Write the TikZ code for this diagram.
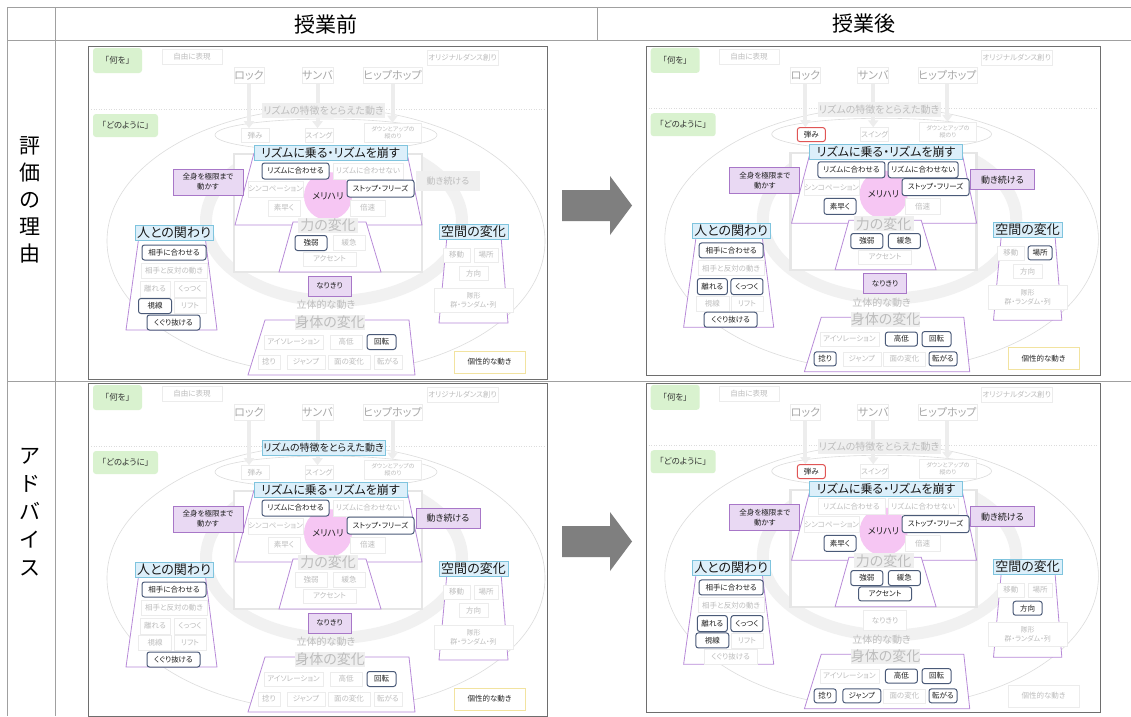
\documentclass[tikz,border=0pt]{standalone}
\usepackage{fontspec}
\setmainfont{Noto Sans CJK JP}[RawFeature=+palt]
\usetikzlibrary{arrows.meta}
\definecolor{frameC}{HTML}{6E6E6E}
\definecolor{fbord}{HTML}{ECECEC}
\definecolor{ftext}{HTML}{BDBDBD}
\definecolor{ftextD}{HTML}{A8A8A8}
\definecolor{hlb}{HTML}{4A5A78}
\definecolor{redc}{HTML}{E05555}
\definecolor{purpb}{HTML}{A877C8}
\definecolor{purpf}{HTML}{E9D9F3}
\definecolor{cyanb}{HTML}{7FC4DE}
\definecolor{cyanf}{HTML}{DCEFFA}
\definecolor{grayfill}{HTML}{EFEFEF}
\definecolor{greenf}{HTML}{D9F2CF}
\definecolor{yelb}{HTML}{F2E3A0}
\definecolor{ellc}{HTML}{DCDCDC}
\definecolor{tlineC}{HTML}{A0A0A0}
\definecolor{arrowC}{HTML}{7F7F7F}
\definecolor{ringC}{HTML}{F1F1F1}
\definecolor{brkC}{HTML}{E6E6E6}
\definecolor{trapC}{HTML}{B88AD8}
\definecolor{pinkF}{HTML}{F6C6F3}
\newcommand\fsz[1]{\fontsize{#1}{#1}\selectfont}
\newcommand\fsb[2]{\fontsize{#1}{#2}\selectfont}
\newcommand\itm[6][]{\node[i-#2,minimum width=#4pt,minimum height=#5pt,#1] (\pfx-#2) at (#3) {#6};}
\tikzset{
 ibase/.style={rectangle, inner sep=0pt, align=center, font=\fsz{7.5}},
 faint/.style={ibase, draw=fbord, fill=white, text=ftext, line width=0.6pt},
 hl/.style={ibase, draw=hlb, fill=white, text=black!88, rounded corners=2.5pt, line width=1pt},
 redb/.style={ibase, draw=redc, fill=white, text=black!88, rounded corners=2.5pt, line width=1pt},
 purp/.style={ibase, draw=purpb, fill=purpf, text=black!88, line width=0.8pt},
 grayf/.style={ibase, fill=grayfill, text=ftext},
 cyanl/.style={ibase, draw=cyanb, fill=cyanf, text=black!90, line width=0.8pt},
 grayl/.style={ibase, fill=grayfill, text=ftext},
 greenb/.style={ibase, fill=greenf, rounded corners=3pt, text=black!80},
 yel/.style={ibase, draw=yelb, fill=white, text=black!85, line width=0.8pt},
 pinkc/.style={circle, inner sep=0pt, fill=pinkF, text=black!88, font=\fsz{9}},
 plaintext/.style={ibase, text=ftext},
 trap/.style={draw=trapC, line width=0.8pt},
 garrow/.style={draw=black!7, line width=4pt, -{Triangle[width=10pt,length=7pt]}},
 tline/.style={draw=tlineC, line width=0.7pt},
 i-nanio/.style=greenb, i-donoyouni/.style=greenb,
 i-jiyu/.style=faint, i-original/.style=faint,
 i-rock/.style=faint, i-samba/.style=faint, i-hiphop/.style=faint,
 i-tokucho/.style=grayl,
 i-hazumi/.style=faint, i-swing/.style=faint, i-downup/.style=faint,
 i-noru/.style=cyanl, i-merihari/.style=pinkc,
 i-awaseru/.style=faint, i-awasenai/.style=faint, i-synco/.style=faint,
 i-stop/.style=faint, i-subayaku/.style=faint, i-baisoku/.style=faint,
 i-zenshin/.style=purp, i-tsuzukeru/.style=grayf,
 i-chikara/.style=grayl, i-kyojaku/.style=faint, i-kankyu/.style=faint, i-accent/.style=faint,
 i-narikiri/.style=purp, i-rittai/.style=plaintext,
 i-shintai/.style=grayl, i-iso/.style=faint, i-kotei/.style=faint, i-kaiten/.style=faint,
 i-hineri/.style=faint, i-jump/.style=faint, i-men/.style=faint, i-korogaru/.style=faint,
 i-kosei/.style=yel,
 i-hito/.style=cyanl, i-aite/.style=faint, i-hantai/.style=faint, i-hanareru/.style=faint,
 i-kuttsuku/.style=faint, i-shisen/.style=faint, i-lift/.style=faint, i-kuguri/.style=faint,
 i-kukan/.style=cyanl, i-idou/.style=faint, i-basho/.style=faint, i-houkou/.style=faint, i-taikei/.style=faint
}
\newcommand\PanelBody{%
 \fill[white] (0,0) rectangle (459,333);
 \draw[draw=ellc,line width=0.6pt] (238,195) ellipse [x radius=219,y radius=133];
 \draw[draw=ringC,line width=12pt] (328.28,113.72) arc[start angle=-50,end angle=230,x radius=128,y radius=80];
 \draw[draw=brkC,line width=2.5pt,fill=white] (146,108) rectangle (334,226);
 \draw[draw=ellc,line width=0.6pt,dash pattern=on 1pt off 1.5pt] (3,63) -- (456,63);
 \draw[draw=ellc,line width=0.6pt] (238,89) ellipse [x radius=111,y radius=16];
 \draw[trap] (166,107) -- (147,179) -- (334,179) -- (319,107);
 \draw[trap,fill=white] (205,176) -- (191,226) -- (293,226) -- (278,176) -- cycle;
 \draw[trap,fill=white] (51,190) -- (38,284) -- (129,284) -- (117,190) -- cycle;
 \draw[trap,fill=white] (359,190) -- (351,277) -- (420,277) -- (413,190) -- cycle;
 \draw[trap,fill=white] (177,274) -- (160,329) -- (327,329) -- (321,274) -- cycle;
 \itm{jiyu}{104,10.5}{60}{15}{自由に表現}
 \itm{original}{374.5,11.5}{71}{15}{オリジナルダンス創り}
 \itm[font=\fsz{8.5}]{nanio}{29.5,14.5}{49}{25}{「何を」}
 \itm[font=\fsz{8.5}]{donoyouni}{37.5,79.5}{65}{23}{「どのように」}
 \itm[font=\fsz{11},text=ftextD]{rock}{161,29.5}{30}{16}{ロック}
 \itm[font=\fsz{11},text=ftextD]{samba}{229.5,29.5}{31}{16}{サンバ}
 \itm[font=\fsz{11},text=ftextD]{hiphop}{304.5,29.5}{59}{16}{ヒップホップ}
 \itm{hazumi}{167,89.5}{28}{14}{弾み}
 \itm{swing}{231,89.5}{28}{14}{スイング}
 \itm[font=\fsb{6}{7.5}]{downup}{305,86.5}{57}{19}{ダウンとアップの\\縦のり}
 \draw[garrow] (\pfx-rock.south) -- (\pfx-rock.south |- \pfx-hazumi.north);
 \draw[garrow] (\pfx-samba.south) -- (\pfx-samba.south |- \pfx-swing.north);
 \draw[garrow] (\pfx-hiphop.south) -- (\pfx-hiphop.south |- \pfx-downup.north);
 \itm[font=\fsz{10}]{tokucho}{235.5,64.5}{123}{15}{リズムの特徴をとらえた動き}
 \itm[font=\fsz{12}]{noru}{242.5,107}{153}{15}{リズムに乗る・リズムを崩す}
 \itm{merihari}{240,150}{48}{48}{メリハリ}
 \itm{awaseru}{207.5,125}{67}{16}{リズムに合わせる}
 \itm{awasenai}{280,125}{70}{16}{リズムに合わせない}
 \itm{synco}{187.5,143}{55}{16}{シンコペーション}
 \itm{stop}{292.5,142.5}{67}{17}{ストップ・フリーズ}
 \itm{subayaku}{196,162}{32}{16}{素早く}
 \itm{baisoku}{279.5,162}{35}{16}{倍速}
 \itm[font=\fsb{7.5}{10}]{zenshin}{120,136}{70}{26}{全身を極限まで\\動かす}
 \itm[font=\fsz{9}]{tsuzukeru}{360,135}{64}{20}{動き続ける}
 \itm[font=\fsz{14}]{chikara}{240,179.5}{60}{15}{力の変化}
 \itm{kyojaku}{223,197}{32}{15}{強弱}
 \itm{kankyu}{261,197}{32}{15}{緩急}
 \itm{accent}{241.5,213}{53}{14}{アクセント}
 \itm{narikiri}{241.5,240}{43}{20}{なりきり}
 \itm[font=\fsz{10}]{rittai}{238,259}{10}{10}{立体的な動き}
 \itm[font=\fsz{14}]{shintai}{242,276}{66}{15}{身体の変化}
 \itm{iso}{205.5,296}{59}{14}{アイソレーション}
 \itm{kotei}{258,296}{32}{14}{高低}
 \itm{kaiten}{293.5,296}{29}{15}{回転}
 \itm{hineri}{181,316}{22}{14}{捻り}
 \itm{jump}{218,316}{38}{14}{ジャンプ}
 \itm{men}{261,316}{42}{14}{面の変化}
 \itm{korogaru}{300,316}{28}{14}{転がる}
 \itm{kosei}{401.5,316}{71}{22}{個性的な動き}
 \itm[font=\fsz{13}]{hito}{86,186.5}{78}{15}{人との関わり}
 \itm{aite}{86,206.5}{64}{15}{相手に合わせる}
 \itm{hantai}{86,224.5}{66}{15}{相手と反対の動き}
 \itm{hanareru}{67,243}{30}{16}{離れる}
 \itm{kuttsuku}{102,243}{32}{16}{くっつく}
 \itm{shisen}{67,260}{33}{15}{視線}
 \itm{lift}{102,260}{32}{15}{リフト}
 \itm{kuguri}{85.5,276.5}{53}{15}{くぐり抜ける}
 \itm[font=\fsz{13}]{kukan}{385.5,185.5}{69}{15}{空間の変化}
 \itm{idou}{368.5,209}{27}{14}{移動}
 \itm{basho}{398,209}{24}{14}{場所}
 \itm{houkou}{385.5,227.5}{29}{14}{方向}
 \itm[font=\fsb{7}{9}]{taikei}{385.5,254}{79}{24}{隊形\\群・ランダム・列}
 \draw[draw=frameC,line width=1pt] (0,0) rectangle (459,333);
}
\begin{document}
\begin{tikzpicture}[x=1pt,y=-1pt]
\useasboundingbox (0,0) rectangle (1131,716);
\fill[white] (0,0) rectangle (1131,716);
\draw[tline] (7,7) -- (1131,7);
\draw[tline] (7,40) -- (1131,40);
\draw[tline] (7,381) -- (1131,381);
\draw[tline] (7,7) -- (7,716);
\draw[tline] (55,7) -- (55,716);
\draw[tline] (597,7) -- (597,40);
\node[font=\fsz{21}] (h1) at (326,24) {授業前};
\node[font=\fsz{21}] (h2) at (864,24) {授業後};
\node[align=center,font=\fsb{21}{27}] (r1) at (30,200) {評\\価\\の\\理\\由};
\node[align=center,font=\fsb{21}{28}] (r2) at (30,512) {ア\\ド\\バ\\イ\\ス};
\fill[arrowC] (562,190) -- (610,190) -- (610,176) -- (632,205.5) -- (610,235) -- (610,221) -- (562,221) -- cycle;
\fill[arrowC] (562,526) -- (610,526) -- (610,512) -- (632,541.5) -- (610,571) -- (610,557) -- (562,557) -- cycle;
% top-left
\begin{scope}[shift={(88,46)},
  i-awaseru/.style=hl, i-stop/.style=hl, i-kyojaku/.style=hl, i-aite/.style=hl,
  i-shisen/.style=hl, i-kuguri/.style=hl, i-kaiten/.style=hl]
 \def\pfx{a}\PanelBody
\end{scope}
% top-right
\begin{scope}[shift={(646,46)},scale=0.99,
  i-hazumi/.style=redb, i-awaseru/.style=hl, i-awasenai/.style=hl, i-stop/.style=hl,
  i-subayaku/.style=hl, i-tsuzukeru/.style=purp, i-kyojaku/.style=hl, i-kankyu/.style=hl,
  i-aite/.style=hl, i-hanareru/.style=hl, i-kuttsuku/.style=hl, i-kuguri/.style=hl,
  i-basho/.style=hl, i-kotei/.style=hl, i-kaiten/.style=hl, i-hineri/.style=hl, i-korogaru/.style=hl]
 \def\pfx{b}\PanelBody
\end{scope}
% bottom-left
\begin{scope}[shift={(88,383)},
  i-tokucho/.style=cyanl, i-awaseru/.style=hl, i-stop/.style=hl, i-tsuzukeru/.style=purp,
  i-aite/.style=hl, i-kuguri/.style=hl, i-kaiten/.style=hl]
 \def\pfx{c}\PanelBody
\end{scope}
% bottom-right
\begin{scope}[shift={(646,383)},scale=0.99,
  i-hazumi/.style=redb, i-stop/.style=hl, i-subayaku/.style=hl, i-tsuzukeru/.style=purp,
  i-kyojaku/.style=hl, i-kankyu/.style=hl, i-accent/.style=hl, i-narikiri/.style=faint,
  i-aite/.style=hl, i-hanareru/.style=hl, i-kuttsuku/.style=hl, i-shisen/.style=hl,
  i-houkou/.style=hl, i-kotei/.style=hl, i-kaiten/.style=hl, i-hineri/.style=hl,
  i-jump/.style=hl, i-korogaru/.style=hl, i-kosei/.style=faint]
 \def\pfx{d}\PanelBody
\end{scope}
\end{tikzpicture}
\end{document}
